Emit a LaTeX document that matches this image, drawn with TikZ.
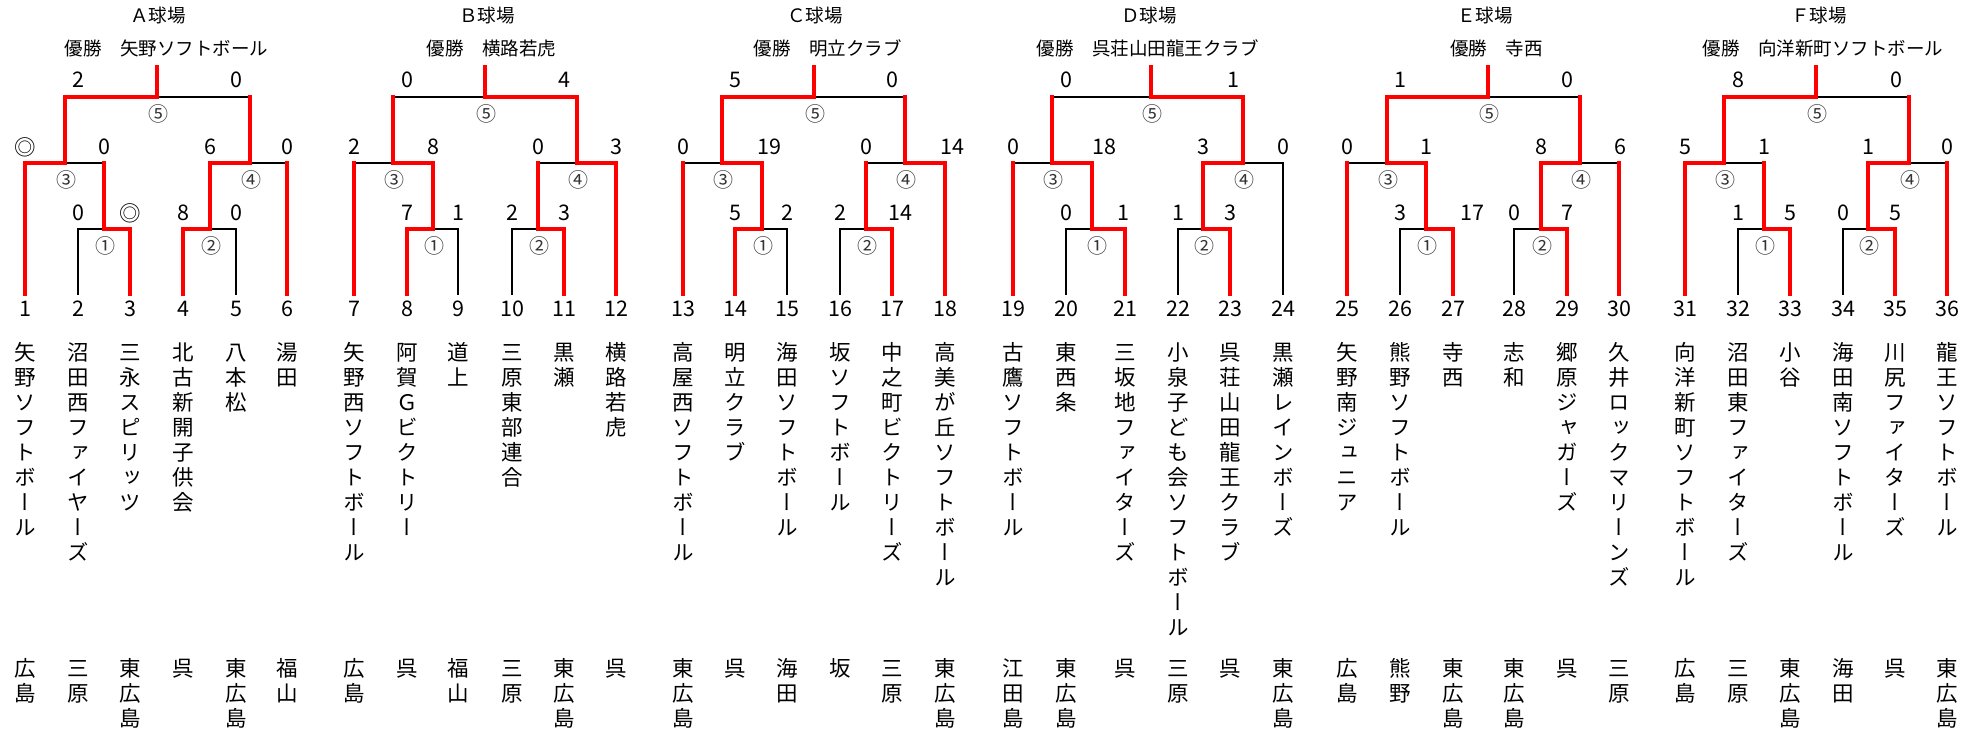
\documentclass[tikz,border=0pt]{standalone}
\usepackage{fontspec}
\setmainfont{Noto Sans CJK JP}
\newfontfamily\vfont[RawFeature={+vert}]{Noto Sans CJK JP}
\definecolor{rd}{RGB}{255,0,0}
\tikzset{
  redline/.style={draw=rd, line width=4.2pt, line cap=rect},
  blackline/.style={draw=black, line width=1.4pt, line cap=rect},
  numlbl/.style={inner sep=0pt, font=\fontsize{21.5}{24}\selectfont},
  scorelbl/.style={inner sep=0pt, font=\fontsize{21.5}{24}\selectfont},
  matchlbl/.style={inner sep=0pt, font=\fontsize{20}{22}\selectfont, text=black!80},
  titlelbl/.style={inner sep=0pt, font=\fontsize{18.5}{22}\selectfont},
  vname/.style={inner sep=0pt, anchor=base, font=\vfont\fontsize{21.5}{25}\selectfont},
}
\newcommand\vt[1]{\edef\vttmp{#1}\vtop{\baselineskip=25pt\lineskiplimit=-100pt\lineskip=0pt\expandafter\vtloop\vttmp\relax}}
\def\vtloop#1{\ifx\relax#1\else\hbox to 25pt{\hss#1\hss}\expandafter\vtloop\fi}
\newcommand\setleaves[6]{\def\lfA{#1}\def\lfB{#2}\def\lfC{#3}\def\lfD{#4}\def\lfE{#5}\def\lfF{#6}}
\newcommand\setstems[5]{\def\stA{#1}\def\stB{#2}\def\stC{#3}\def\stD{#4}\def\stE{#5}}
\def\getleaf#1#2#3#4#5#6{\def\La{#1}\def\Lb{#2}\def\Lc{#3}\def\Ld{#4}\def\Le{#5}\def\Lf{#6}}
\def\getwin#1#2#3#4#5{\def\Wa{#1}\def\Wb{#2}\def\Wc{#3}\def\Wd{#4}\def\We{#5}}
\newcommand\setcol[2]{\getleaf#1\getwin#2}
\newcommand\segdraw[3]{\if#1\pass\if#1r\draw[redline] #2 -- #3;\else\draw[blackline] #2 -- #3;\fi\fi}
\newcommand\halves[4]{\if#1l\segdraw{r}{#2}{#3}\segdraw{k}{#3}{#4}\else\segdraw{k}{#2}{#3}\segdraw{r}{#3}{#4}\fi}
\newcommand\bracketsegs[1]{%
  \segdraw{\La}{(#1-b1)}{(#1-t1)}%
  \segdraw{\Lb}{(#1-b2)}{(#1-t2)}%
  \segdraw{\Lc}{(#1-b3)}{(#1-t3)}%
  \segdraw{\Ld}{(#1-b4)}{(#1-t4)}%
  \segdraw{\Le}{(#1-b5)}{(#1-t5)}%
  \segdraw{\Lf}{(#1-b6)}{(#1-t6)}%
  \halves{\Wa}{(#1-t2)}{(#1-m1)}{(#1-t3)}%
  \segdraw{r}{(#1-m1)}{(#1-u1)}%
  \halves{\Wb}{(#1-t4)}{(#1-m2)}{(#1-t5)}%
  \segdraw{r}{(#1-m2)}{(#1-u2)}%
  \halves{\Wc}{(#1-t1)}{(#1-m3)}{(#1-u1)}%
  \segdraw{r}{(#1-m3)}{(#1-u3)}%
  \halves{\Wd}{(#1-u2)}{(#1-m4)}{(#1-t6)}%
  \segdraw{r}{(#1-m4)}{(#1-u4)}%
  \halves{\We}{(#1-u3)}{(#1-m5)}{(#1-u4)}%
  \segdraw{r}{(#1-m5)}{(#1-top)}%
}
\newcommand\bracket[2]{%
  \coordinate (#1-b1) at (\lfA,294);
  \coordinate (#1-b2) at (\lfB,294);
  \coordinate (#1-b3) at (\lfC,294);
  \coordinate (#1-b4) at (\lfD,294);
  \coordinate (#1-b5) at (\lfE,294);
  \coordinate (#1-b6) at (\lfF,294);
  \coordinate (#1-t1) at (\lfA,163);
  \coordinate (#1-t2) at (\lfB,229);
  \coordinate (#1-t3) at (\lfC,229);
  \coordinate (#1-t4) at (\lfD,229);
  \coordinate (#1-t5) at (\lfE,229);
  \coordinate (#1-t6) at (\lfF,163);
  \coordinate (#1-m1) at (\stA,229);
  \coordinate (#1-u1) at (\stA,163);
  \coordinate (#1-m2) at (\stB,229);
  \coordinate (#1-u2) at (\stB,163);
  \coordinate (#1-m3) at (\stC,163);
  \coordinate (#1-u3) at (\stC,97);
  \coordinate (#1-m4) at (\stD,163);
  \coordinate (#1-u4) at (\stD,97);
  \coordinate (#1-m5) at (\stE,97);
  \coordinate (#1-top) at (\stE,67);
  \def\pass{k}\bracketsegs{#1}\def\pass{r}\bracketsegs{#1}
  \node[matchlbl] (#1-c1) at (\stA+#2,246) {①};
  \node[matchlbl] (#1-c2) at (\stB+1,246) {②};
  \node[matchlbl] (#1-c3) at (\stC+1,180) {③};
  \node[matchlbl] (#1-c4) at (\stD+1,180) {④};
  \node[matchlbl] (#1-c5) at (\stE+1,114) {⑤};
}
\begin{document}
\begin{tikzpicture}[x=1pt,y=-1pt]
\useasboundingbox[fill=white] (0,0) rectangle (1982,733);

% ---------- brackets ----------
\setleaves{25}{78}{130}{183}{236}{287}\setstems{104}{210}{65}{250}{157}\setcol{rkrrkr}{rllll}\bracket{A}{1}
\setleaves{354}{407}{458}{512}{564}{616}\setstems{433}{538}{393}{577}{485}\setcol{rrkkrr}{lrrrr}\bracket{B}{1}
\setleaves{683}{735}{787}{840}{892}{945}\setstems{762}{866}{722}{905}{814}\setcol{rrkkrr}{lrrrl}\bracket{C}{1}
\setleaves{1013}{1066}{1125}{1178}{1230}{1283}\setstems{1092}{1203}{1052}{1243}{1151}\setcol{rkrkrk}{rrrlr}\bracket{D}{5}
\setleaves{1347}{1400}{1453}{1514}{1567}{1619}\setstems{1426}{1541}{1387}{1580}{1488}\setcol{rkrkrr}{rrrll}\bracket{E}{1}
\setleaves{1685}{1738}{1790}{1843}{1895}{1947}\setstems{1764}{1868}{1724}{1909}{1816}\setcol{rkrkrr}{rrlll}\bracket{F}{1}

% ---------- titles ----------
\node[titlelbl] (A-title) at (158,15) {Ａ球場};
\node[titlelbl] (B-title) at (487,15) {Ｂ球場};
\node[titlelbl] (C-title) at (815,15) {Ｃ球場};
\node[titlelbl] (D-title) at (1149,15) {Ｄ球場};
\node[titlelbl] (E-title) at (1485,15) {Ｅ球場};
\node[titlelbl] (F-title) at (1819,15) {Ｆ球場};
\node[titlelbl] (A-win) at (166.5,48) {優勝　矢野ソフトボール};
\node[titlelbl] (B-win) at (491.5,48) {優勝　横路若虎};
\node[titlelbl] (C-win) at (827.5,48) {優勝　明立クラブ};
\node[titlelbl] (D-win) at (1147.5,48) {優勝　呉荘山田龍王クラブ};
\node[titlelbl] (E-win) at (1496.5,48) {優勝　寺西};
\node[titlelbl] (F-win) at (1823,48) {優勝　向洋新町ソフトボール};

% ---------- scores ----------
\foreach \nm/\x/\y/\t in {
 A5l/78/80/2, A5r/236/80/0, A3l/25/147/◎, A3r/104/147/0, A4l/210/147/6, A4r/287/147/0, A1l/78/213/0, A1r/130/213/◎, A2l/183/213/8, A2r/236/213/0,
 B5l/407/80/0, B5r/564/80/4, B3l/354/147/2, B3r/433/147/8, B4l/538/147/0, B4r/616/147/3, B1l/407/213/7, B1r/458/213/1, B2l/512/213/2, B2r/564/213/3,
 C5l/735/80/5, C5r/892/80/0, C3l/683/147/0, C3r/769/147/19, C4l/866/147/0, C4r/952/147/14, C1l/735/213/5, C1r/787/213/2, C2l/840/213/2, C2r/900/213/14,
 D5l/1066/80/0, D5r/1233/80/1, D3l/1013/147/0, D3r/1104/147/18, D4l/1203/147/3, D4r/1283/147/0, D1l/1066/213/0, D1r/1123/213/1, D2l/1178/213/1, D2r/1230/213/3,
 E5l/1400/80/1, E5r/1567/80/0, E3l/1347/147/0, E3r/1426/147/1, E4l/1541/147/8, E4r/1620/147/6, E1l/1400/213/3, E1r/1472/213/17, E2l/1514/213/0, E2r/1567/213/7,
 F5l/1738/80/8, F5r/1896/80/0, F3l/1685/147/5, F3r/1764/147/1, F4l/1868/147/1, F4r/1947/147/0, F1l/1738/213/1, F1r/1790/213/5, F2l/1843/213/0, F2r/1895/213/5}
 { \node[scorelbl] (\nm) at (\x,\y) {\t}; }

% ---------- teams ----------
\foreach \i/\x/\n/\r in {
 1/25/矢野ソフトボール/広島,
 2/78/沼田西ファイヤーズ/三原,
 3/130/三永スピリッツ/東広島,
 4/183/北古新開子供会/呉,
 5/236/八本松/東広島,
 6/287/湯田/福山,
 7/354/矢野西ソフトボール/広島,
 8/407/阿賀Ｇビクトリー/呉,
 9/458/道上/福山,
 10/512/三原東部連合/三原,
 11/564/黒瀬/東広島,
 12/616/横路若虎/呉,
 13/683/高屋西ソフトボール/東広島,
 14/735/明立クラブ/呉,
 15/787/海田ソフトボール/海田,
 16/840/坂ソフトボール/坂,
 17/892/中之町ビクトリーズ/三原,
 18/945/高美が丘ソフトボール/東広島,
 19/1013/古鷹ソフトボール/江田島,
 20/1066/東西条/東広島,
 21/1125/三坂地ファイターズ/呉,
 22/1178/小泉子ども会ソフトボール/三原,
 23/1230/呉荘山田龍王クラブ/呉,
 24/1283/黒瀬レインボーズ/東広島,
 25/1347/矢野南ジュニア/広島,
 26/1400/熊野ソフトボール/熊野,
 27/1453/寺西/東広島,
 28/1514/志和/東広島,
 29/1567/郷原ジャガーズ/呉,
 30/1619/久井ロックマリーンズ/三原,
 31/1685/向洋新町ソフトボール/広島,
 32/1738/沼田東ファイターズ/三原,
 33/1790/小谷/東広島,
 34/1843/海田南ソフトボール/海田,
 35/1895/川尻ファイターズ/呉,
 36/1947/龍王ソフトボール/東広島}
 {
  \node[numlbl] (num\i) at (\x,309) {\i};
  \node[vname] (team\i) at (\x,360) {\vt{\n}};
  \node[vname] (area\i) at (\x,676) {\vt{\r}};
 }
\end{tikzpicture}
\end{document}
